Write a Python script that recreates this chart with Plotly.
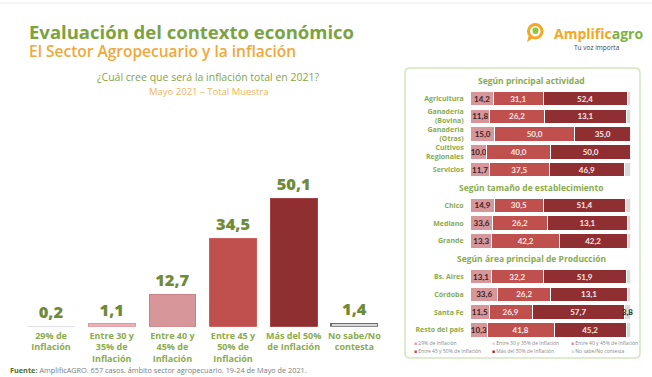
import plotly.graph_objects as go

W, H = 652, 377

# ---------------- data: left chart ----------------
cats = ["29% de<br>Inflación", "Entre 30 y<br>35% de<br>Inflación", "Entre 40 y<br>45% de<br>Inflación",
        "Entre 45 y<br>50% de<br>Inflación", "Más del 50%<br>de Inflación", "No sabe/No<br>contesta"]
total_vals = [0.2, 1.1, 12.7, 34.5, 50.1, 1.4]

# ---------------- data: right panel ----------------
series_names = ["29% de Inflación", "Entre 30 y 35% de Inflación", "Entre 40 y 45% de Inflación",
                "Entre 45 y 50% de Inflación", "Más del 50% de Inflación", "No sabe/No contesta"]
group_titles = ["Según principal actividad", "Según tamaño de establecimiento",
                "Según área principal de Producción"]
group_rows = [
    ["Agricultura", "Ganadería<br>(Bovina)", "Ganadería<br>(Otras)", "Cultivos<br>Regionales", "Servicios"],
    ["Chico", "Mediano", "Grande"],
    ["Bs. Aires", "Córdoba", "Santa Fe", "Resto del país"],
]
# segment widths as drawn in the picture (%)
w_29 = [0, 0, 0, 0, 0, 0, 0, 0, 0, 0, 0, 0]
w_3035 = [0, 0, 0, 0, 0, 0, 0, 0, 0, 0, 0, 0]
w_4045 = [14.2, 12.0, 15.0, 10.0, 11.7, 14.9, 13.7, 13.3, 13.1, 17.0, 11.5, 10.3]
w_4550 = [31.1, 34.0, 50.0, 40.0, 37.5, 30.5, 34.2, 42.2, 32.2, 33.0, 26.9, 41.8]
w_50 = [52.4, 51.5, 35.0, 50.0, 46.9, 51.4, 50.2, 42.2, 51.9, 48.0, 57.7, 45.2]
w_ns = [2.3, 2.5, 0.0, 0.0, 3.9, 3.2, 1.9, 2.3, 2.8, 2.0, 3.8, 2.7]
# labels printed on the segments
lab_4045 = [14.2, 11.8, 15.0, 10.0, 11.7, 14.9, 33.6, 13.3, 13.1, 33.6, 11.5, 10.3]
lab_4550 = [31.1, 26.2, 50.0, 40.0, 37.5, 30.5, 26.2, 42.2, 32.2, 26.2, 26.9, 41.8]
lab_50 = [52.4, 13.1, 35.0, 50.0, 46.9, 51.4, 13.1, 42.2, 51.9, 13.1, 57.7, 45.2]
lab_ns = [None, None, None, None, None, None, None, None, None, None, 3.8, None]

colors = ["#e3e5ef", "#ebb1b6", "#d7969a", "#c0504d", "#902f31", "#d9d9d9"]
panel_colors = ["#d9a3a9", "#f3d3d6", "#d7969a", "#c0504d", "#902f31", "#d9d9d9"]

GREEN = "#7ba23f"
GREEN2 = "#8aab4c"
ORANGE = "#f0a83a"


def fmt(v):
    return "" if v is None else f"{v:.1f}".replace(".", ",")


def px(x):
    return x / W


def py(y):
    return 1 - y / H


fig = go.Figure()

# ---------- left bar chart ----------
fig.add_trace(go.Bar(
    x=cats, y=total_vals, width=0.77,
    marker=dict(color=colors, line=dict(color=["#d6d9e6", "#d99aa0", "#c98387", "#c9605d", "#a34446", "#6e6e6e"],
                                         width=[0.5, 1, 1, 1, 1, 1.2])),
    text=[fmt(v) for v in total_vals], textposition="outside", cliponaxis=False,
    constraintext="none",
    textfont=dict(family="Open Sans", size=16.5, color="#6f8a38", weight=800),
    xaxis="x", yaxis="y", showlegend=False, hoverinfo="skip",
))

# ---------- right stacked bars ----------
all_cats = []
row_cats = []
hdr_idx = []
for gi, (t, rs) in enumerate(zip(group_titles, group_rows)):
    hdr_idx.append(len(all_cats))
    all_cats.append(f"hdr{gi}")
    for r in rs:
        all_cats.append(r)
        row_cats.append(r)

seg_w = [w_29, w_3035, w_4045, w_4550, w_50, w_ns]
seg_lab = [[None] * 12, [None] * 12, lab_4045, lab_4550, lab_50, lab_ns]
txtcol = ["#333", "#333", "#3a2222", "#fbeaea", "#fbeaea", "#222"]
for i, name in enumerate(series_names):
    fig.add_trace(go.Bar(
        y=row_cats, x=seg_w[i], orientation="h", width=0.8, name=name,
        marker=dict(color=panel_colors[i], line=dict(color="white", width=1)),
        text=[fmt(v) for v in seg_lab[i]],
        textposition="inside", textangle=0,
        insidetextanchor="middle", constraintext="none", cliponaxis=False,
        textfont=dict(family="Lato", size=8, color=txtcol[i], weight="bold"),
        xaxis="x2", yaxis="y2", showlegend=False, hoverinfo="skip",
    ))

fig.update_layout(
    width=W, height=H, margin=dict(l=0, r=0, t=0, b=0),
    paper_bgcolor="white", plot_bgcolor="rgba(0,0,0,0)",
    barmode="stack",
    xaxis=dict(domain=[px(20.7), px(384.7)], range=[-0.5, 5.5], showgrid=False, zeroline=False,
               showline=False, ticks="", ticklabelstandoff=2,
               tickfont=dict(family="Open Sans", size=9, color=GREEN2, weight="bold")),
    yaxis=dict(domain=[py(326.7), py(185.7)], range=[0, 55], visible=False),
    xaxis2=dict(domain=[px(470.7), px(630.7)], range=[0, 100], visible=False, anchor="y2"),
    yaxis2=dict(domain=[py(338.8), py(71.8)], type="category", categoryorder="array",
                categoryarray=all_cats, range=[len(all_cats) - 0.5, -0.5],
                tickmode="array", tickvals=row_cats, ticktext=row_cats,
                showgrid=False, zeroline=False, showline=False, ticks="", ticklabelstandoff=6,
                tickfont=dict(family="Open Sans", size=7, color=GREEN2, weight="bold"),
                anchor="x2"),
    font=dict(family="Open Sans"),
)


def rounded_rect(x0, y0, x1, y1, r):
    X0, X1 = px(x0), px(x1)
    Y0, Y1 = py(y0), py(y1)
    rx, ry = r / W, r / H
    return (f"M{X0 + rx},{Y0} L{X1 - rx},{Y0} Q{X1},{Y0} {X1},{Y0 - ry} "
            f"L{X1},{Y1 + ry} Q{X1},{Y1} {X1 - rx},{Y1} L{X0 + rx},{Y1} Q{X0},{Y1} {X0},{Y1 + ry} "
            f"L{X0},{Y0 - ry} Q{X0},{Y0} {X0 + rx},{Y0} Z")


shapes = [
    dict(type="line", xref="paper", yref="paper", x0=0, x1=1, y0=py(3), y1=py(3),
         line=dict(color="#ececec", width=1)),
    dict(type="path", xref="paper", yref="paper", path=rounded_rect(405, 68, 640, 358, 5),
         line=dict(color="#d3e6bd", width=1.5), fillcolor="rgba(0,0,0,0)", layer="below"),
    # logo icon
    dict(type="path", xref="paper", yref="paper",
         path=f"M{px(529)},{py(35)} L{px(527)},{py(42)} L{px(533)},{py(38)} Z",
         fillcolor="#f5a623", line=dict(width=0)),
    dict(type="circle", xref="paper", yref="paper", x0=px(528.5), x1=px(542), y0=py(24.5), y1=py(38),
         line=dict(color="#f5a623", width=3), fillcolor="white"),
    dict(type="circle", xref="paper", yref="paper", x0=px(532.5), x1=px(538.5), y0=py(27.5), y1=py(34),
         line=dict(width=0), fillcolor="#8dc63f"),
]

ann = [
    dict(text="Evaluación del contexto económico", x=px(27), y=py(31), xanchor="left", yanchor="middle",
         font=dict(family="Open Sans", size=18.5, color=GREEN, weight="bold")),
    dict(text="El Sector Agropecuario y la inflación", x=px(27), y=py(50.5), xanchor="left", yanchor="middle",
         font=dict(family="Open Sans", size=15.5, color=ORANGE, weight=600)),
    dict(text="¿Cuál cree que será la inflación total en 2021?", x=px(208), y=py(77), xanchor="center",
         yanchor="middle", font=dict(family="Open Sans", size=10.5, color="#84a548")),
    dict(text="Mayo 2021 – Total Muestra", x=px(208), y=py(92), xanchor="center", yanchor="middle",
         font=dict(family="Open Sans", size=9.5, color="#f0b45a")),
    dict(text="<b>Fuente:</b> <span style='color:#7d7d7d'>AmplificAGRO. 657 casos. ámbito sector agropecuario. 19-24 de Mayo de 2021.</span>",
         x=px(8), y=py(370), xanchor="left", yanchor="middle",
         font=dict(family="Open Sans", size=7.3, color="#4f6e2a")),
    dict(text="<span style='color:#f5a623'>Amplific</span><span style='color:#7cb342'>agro</span>",
         x=px(552), y=py(33), xanchor="left", yanchor="middle",
         font=dict(family="Open Sans", size=14, weight="bold")),
    dict(text="Tu voz importa", x=px(597), y=py(47), xanchor="center", yanchor="middle",
         font=dict(family="Open Sans", size=6.5, color="#444")),
]
for t, hi in zip(group_titles, hdr_idx):
    ann.append(dict(text=t, x=px(531), xref="paper", y=hi, yref="y2", xanchor="center", yanchor="middle",
                    font=dict(family="Open Sans", size=8.5, color=GREEN2, weight="bold")))

# legend drawn as text
leg_x = [412, 490, 569]
leg_y = [342.5, 351]
for i, name in enumerate(series_names):
    r, c = divmod(i, 3)
    ann.append(dict(text=f"<span style='color:{panel_colors[i]}'>■</span> {name}",
                    x=px(leg_x[c]), y=py(leg_y[r]), xanchor="left", yanchor="middle",
                    font=dict(family="Open Sans", size=5, color="#888")))

for a in ann:
    a.setdefault("xref", "paper")
    a.setdefault("yref", "paper")
    a["showarrow"] = False

fig.update_layout(shapes=shapes, annotations=ann)
fig.write_html("out.html", config={"displayModeBar": False},
               post_script="document.body.style.margin='0px';document.body.style.padding='0px';")
